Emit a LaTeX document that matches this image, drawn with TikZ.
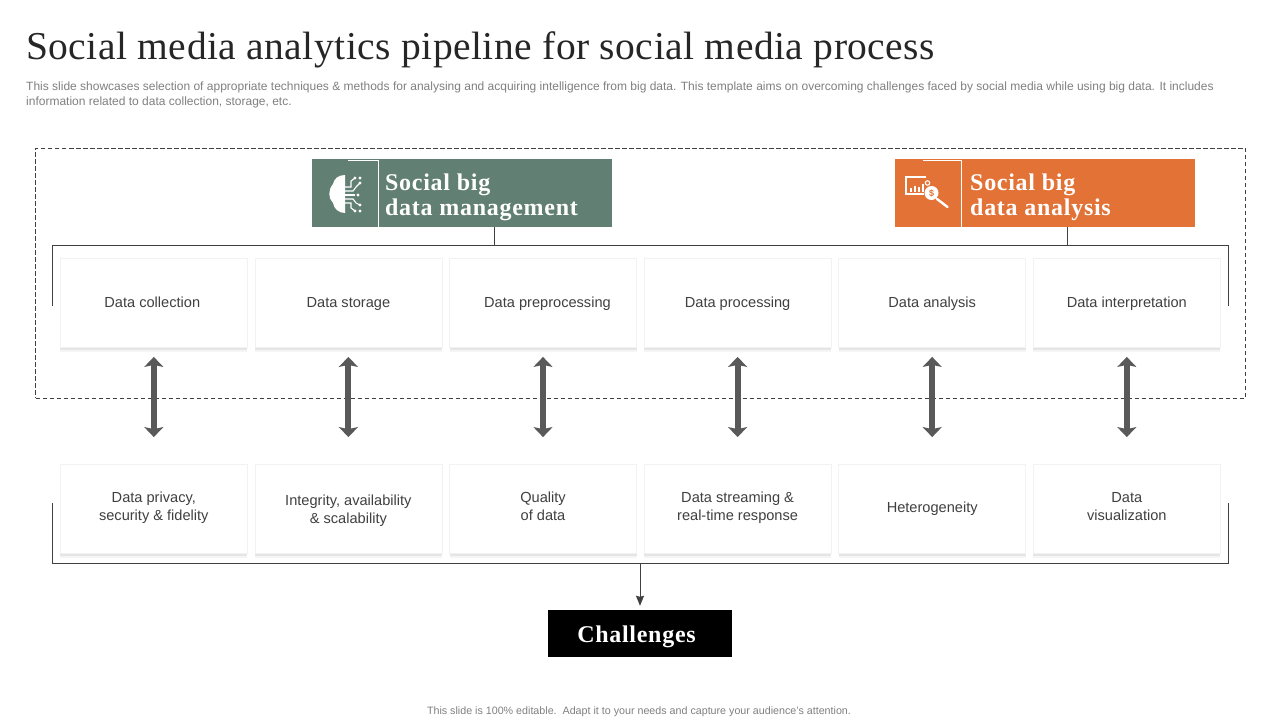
\documentclass[tikz,border=0pt]{standalone}
\usepackage{fontspec}
\setmainfont{Liberation Sans}
\newfontfamily\headfont[LetterSpace=1.25]{Liberation Serif}
\newfontfamily\boxfont[LetterSpace=3]{Liberation Serif}
\usetikzlibrary{positioning,arrows.meta,calc,shadows}
\definecolor{ink}{HTML}{404040}
\definecolor{ink2}{HTML}{7F7F7F}
\definecolor{titleink}{HTML}{262626}
\definecolor{sage}{HTML}{627F73}
\definecolor{rust}{HTML}{E37237}
\definecolor{cardline}{HTML}{F2F2F2}
\definecolor{arrowgrey}{HTML}{595959}
\newcommand{\lift}{\rule[-5.5pt]{0pt}{0pt}}
\tikzset{
  card/.style={draw=cardline, line width=0.8pt, fill=white, align=center,
    minimum width=187pt, minimum height=89pt, inner sep=2pt, text=ink,
    font=\fontsize{14.6pt}{18pt}\selectfont,
    drop shadow={shadow xshift=0pt, shadow yshift=-4.5pt, fill=black!4, opacity=1},
    drop shadow={shadow xshift=0pt, shadow yshift=-2.5pt, fill=black!10, opacity=1}},
  oneline/.style={text height=11pt, text depth=3pt},
  headbox/.style={minimum width=300pt, minimum height=68pt, inner sep=0pt, anchor=north west},
  headtext/.style={inner sep=0pt, text=white, align=left, anchor=west,
    font=\boxfont\bfseries\fontsize{24pt}{25.3pt}\selectfont},
  wire/.style={draw=ink, line width=0.9pt},
  dbl/.style={{Stealth[length=10pt,width=19pt,inset=2pt]}-{Stealth[length=10pt,width=19pt,inset=2pt]},
    line width=6pt, color=arrowgrey},
  arr/.style={-{Stealth[length=10pt,width=8pt,inset=1pt]}, line width=0.9pt, color=ink},
  icon/.style={draw=white, line width=1.1pt},
}
\begin{document}
\begin{tikzpicture}[x=1pt, y=-1pt]
  \useasboundingbox (0,0) rectangle (1280,720);
  \node[anchor=west, inner sep=0pt, text=titleink, font=\headfont\fontsize{39.5pt}{44pt}\selectfont]
    (title) at (26,49.5) {Social media analytics pipeline for social media process};
  \node[anchor=north west, inner sep=0pt, text=ink2, align=left,
    font=\fontsize{12pt}{14.2pt}\selectfont] (intro) at (26,82)
    {This slide showcases selection of appropriate techniques \& methods for analysing and acquiring intelligence from big data. This template aims on overcoming challenges faced by social media while using big data. It includes\\information related to data collection, storage, etc.};
  \node[draw=ink, dash pattern=on 4.5pt off 2.5pt, line width=0.7pt, minimum width=1210pt,
    minimum height=250pt, inner sep=0pt] (frame) at (640.5,273) {};

  % upper row of the pipeline
  \node[card, oneline] (c1) at (153.8,303) {\hspace*{-3pt}Data collection};
  \node[card, oneline, right=6.8pt of c1] (c2) {Data storage};
  \node[card, oneline, right=6.8pt of c2] (c3) {\hspace*{9pt}Data preprocessing};
  \node[card, oneline, right=6.8pt of c3] (c4) {Data processing};
  \node[card, oneline, right=6.8pt of c4] (c5) {Data analysis};
  \node[card, oneline, right=6.8pt of c5] (c6) {Data interpretation};

  % lower row
  \node[card] (d1) at (153.8,509) {Data privacy,\\security \& fidelity\lift};
  \node[card, right=6.8pt of d1] (d2) {\rule{0pt}{15pt}Integrity, availability\\\& scalability};
  \node[card, right=6.8pt of d2] (d3) {Quality\\of data\lift};
  \node[card, right=6.8pt of d3] (d4) {Data streaming \&\\real-time response\lift};
  \node[card, oneline, text depth=5pt, right=6.8pt of d4] (d5) {Heterogeneity};
  \node[card, right=6.8pt of d5] (d6) {Data\\visualization\lift};

  \foreach \i in {1,...,6}
    \draw[dbl, shorten <=9pt, shorten >=27pt] (c\i) -- (d\i);

  \node[headbox, fill=sage] (mgmt) at (312,159) {};
  \node[headbox, fill=rust] (ana) at (895,159) {};
  \node[headtext] (mgmtlab) at (385,197) {Social big\\data management};
  \node[headtext] (analab) at (970,197.5) {Social big\\data analysis};
  \node[fill=black, minimum width=184pt, minimum height=47pt, inner sep=0pt] (chal) at (640,633.5) {};
  \node[text=white, inner sep=0pt, font=\boxfont\bfseries\fontsize{24pt}{26pt}\selectfont]
    (challab) at (636.5,637) {Challenges};

  % corner lines of the two headers
  \draw[draw=white, line width=0.8pt] (348,160) -- (378.5,160) -- (378.5,227);
  \draw[draw=white, line width=0.8pt] (923,160) -- (961.5,160) -- (961.5,227);

  % brackets
  \coordinate (ul) at (52.5,306);
  \coordinate (ur) at (1228.5,306);
  \coordinate (ll) at (52.5,503);
  \coordinate (lr) at (1228.5,503);
  \coordinate (mgmtstem) at (494.5,227);
  \coordinate (anastem) at (1067.5,227);
  \coordinate (hitop) at (640,245.5);
  \coordinate (hilow) at (640,563.5);
  \draw[wire] (ul) |- (hitop) -| (ur);
  \draw[wire] (ll) |- (hilow) -| (lr);
  \draw[wire] (mgmtstem) -- (mgmtstem |- hitop);
  \draw[wire] (anastem) -- (anastem |- hitop);
  \draw[arr, shorten >=4pt] (hilow) -- (chal.north);

  % brain icon
  \fill[white] (345,175) .. controls (338,175) and (334,179) .. (333,184)
    .. controls (328,190) and (328,198) .. (333,203)
    .. controls (334,209) and (339,213) .. (345,213) -- cycle;
  \draw[icon] (345,187) -- (351,187) -- (351,181) -- (355,178);
  \draw[icon] (345,191) -- (353,191) -- (356,187) -- (360,183);
  \draw[icon] (345,195) -- (355,195);
  \draw[icon] (345,199) -- (353,199) -- (356,203) -- (360,205);
  \draw[icon] (345,203) -- (351,203) -- (351,208) -- (355,211);
  \foreach \px/\py in {355/178,360/178,360/183,358/195,360/205,355/211,360/211}
    \fill[white] (\px,\py) circle (1.6pt);

  % chart and lens icon
  \draw[icon] (926,177) -- (906,177) -- (906,194) -- (924,194);
  \draw[icon, line width=1.6pt] (911,192) -- (911,188) (915,192) -- (915,186)
    (919,192) -- (919,187) (923,192) -- (923,184);
  \draw[icon] (927.5,183) circle (2.2pt);
  \fill[white] (931.5,193) circle (7pt);
  \draw[icon, line width=2.4pt, line cap=round] (937,199) -- (947.5,207);
  \node[inner sep=0pt, text=rust, font=\bfseries\fontsize{9pt}{10pt}\selectfont] (dollar) at (931.5,193) {\$};

  \node[inner sep=0pt, text=ink2, font=\fontsize{10.7pt}{12pt}\selectfont] (foot) at (639,711.5)
    {This slide is 100\% editable.\ \ Adapt it to your needs and capture your audience's attention.};
\end{tikzpicture}
\end{document}
